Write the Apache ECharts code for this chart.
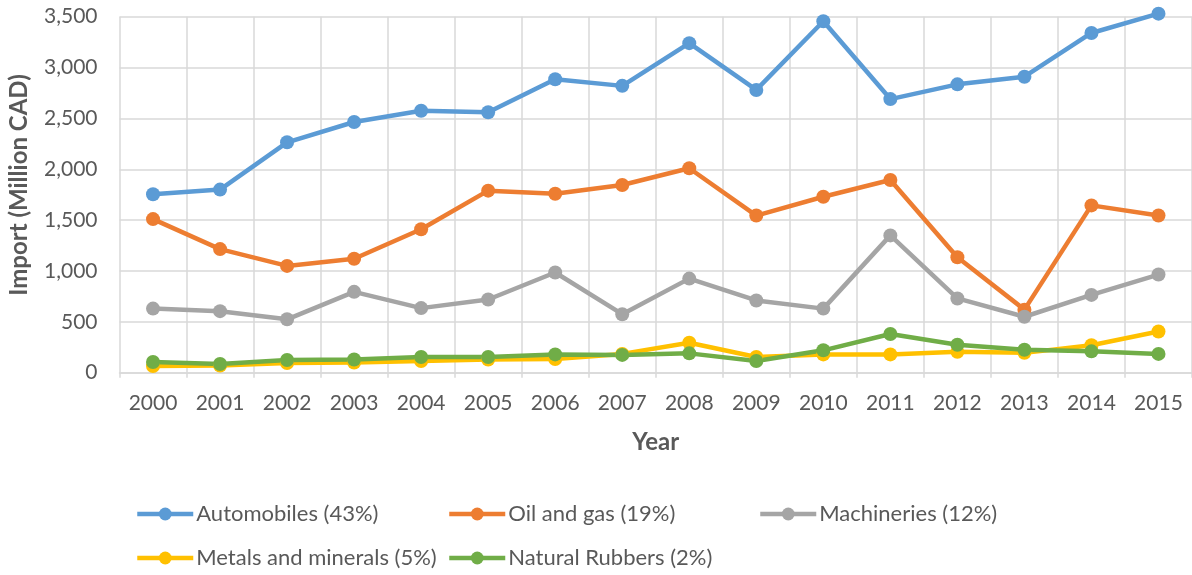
<!DOCTYPE html>
<html>
<head>
<meta charset="utf-8">
<style>
  html, body { margin: 0; padding: 0; background: #fff; }
  #chart { width: 1192px; height: 575px; }
</style>
<script src="https://cdn.jsdelivr.net/npm/echarts@6/dist/echarts.min.js"></script>
</head>
<body>
<div id="chart"></div>
<script>
const years = ['2000', '2001', '2002', '2003', '2004', '2005', '2006', '2007', '2008', '2009', '2010', '2011', '2012', '2013', '2014', '2015']
const automobiles = [1755, 1800, 2265, 2465, 2575, 2560, 2885, 2820, 3240, 2780, 3455, 2690, 2835, 2910, 3340, 3530]
const oilGas = [1510, 1215, 1050, 1120, 1410, 1790, 1760, 1845, 2010, 1545, 1730, 1895, 1135, 620, 1645, 1545]
const machineries = [630, 605, 525, 795, 635, 720, 985, 575, 925, 710, 630, 1350, 730, 550, 765, 965]
const metals = [65, 70, 95, 100, 115, 130, 135, 185, 295, 155, 180, 180, 205, 195, 270, 405]
const rubbers = [105, 85, 125, 130, 155, 155, 180, 175, 190, 115, 220, 380, 275, 225, 210, 185]
const yTicks = [0, 500, 1000, 1500, 2000, 2500, 3000, 3500]

const names = ['Automobiles (43%)', 'Oil and gas (19%)', 'Machineries (12%)', 'Metals and minerals (5%)', 'Natural Rubbers (2%)']
const colors = ['#5B9BD5', '#ED7D31', '#A5A5A5', '#FFC000', '#70AD47']
const values = [automobiles, oilGas, machineries, metals, rubbers]

const font = 'Lato, "Open Sans", sans-serif'
const textColor = '#595959'

// legend slots, laid out like the excel legend (3 columns, 2 rows)
const legendPos = [[135, 503], [447, 503], [758, 503], [135, 547], [447, 547]]

const chart = echarts.init(document.getElementById('chart'))
const option = {
  backgroundColor: '#fff',
  animation: false,
  grid: {
    left: 119.5,
    top: 16.7,
    width: 1076,
    height: 356,
    containLabel: false
  },
  legend: names.map((n, i) => ({
    data: [n],
    left: legendPos[i][0],
    top: legendPos[i][1],
    padding: 0,
    itemWidth: 56,
    itemHeight: 16,
    lineStyle: { width: 4.5 },
    textStyle: { fontFamily: font, fontSize: 22, color: textColor, padding: [0, 0, 0, -2] }
  })),
  // y axis title, drawn by hand so it sits a bit above the plot middle like the original
  graphic: [{
    type: 'text',
    x: 19,
    y: 185,
    rotation: Math.PI / 2,
    style: {
      text: 'Import (Million CAD)',
      fontFamily: font,
      fontSize: 24,
      fontWeight: 'bold',
      fill: textColor,
      align: 'center',
      verticalAlign: 'middle'
    }
  }],
  xAxis: {
    type: 'category',
    data: years,
    boundaryGap: true,
    name: 'Year',
    nameLocation: 'middle',
    nameGap: 58,
    nameTextStyle: { fontFamily: font, fontSize: 24, fontWeight: 'bold', color: textColor },
    axisLine: { show: true, lineStyle: { color: '#D9D9D9', width: 1.5 } },
    axisTick: { show: true, length: 5, lineStyle: { color: '#D9D9D9', width: 1.5 } },
    splitLine: { show: true, lineStyle: { color: '#D9D9D9', width: 1.5 } },
    axisLabel: { fontFamily: font, fontSize: 21, color: textColor, margin: 20 }
  },
  yAxis: {
    type: 'value',
    min: yTicks[0],
    max: yTicks[yTicks.length - 1],
    interval: 500,
    axisLine: { show: false },
    axisTick: { show: false },
    splitLine: { show: true, lineStyle: { color: '#D9D9D9', width: 1.5 } },
    axisLabel: {
      fontFamily: font,
      fontSize: 21,
      color: textColor,
      margin: 22,
      formatter: v => v.toLocaleString('en-US')
    }
  },
  series: names.map((n, i) => ({
    name: n,
    type: 'line',
    data: values[i],
    clip: false,
    symbol: 'circle',
    symbolSize: 14,
    lineStyle: { color: colors[i], width: 4.5 },
    itemStyle: { color: colors[i] },
    emphasis: { disabled: true }
  }))
}
chart.setOption(option)
</script>
</body>
</html>
